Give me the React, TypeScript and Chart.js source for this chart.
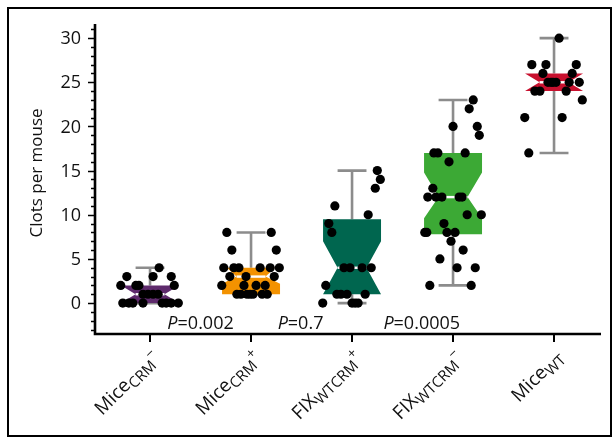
import React, { useEffect, useRef } from "react";
import { Chart, registerables } from "chart.js";

Chart.register(...registerables);

// ---------- data ----------
const categories = ["Mice", "Mice", "FIX", "FIX", "Mice"];
const subscripts = ["CRM", "CRM", "WTCRM", "WTCRM", "WT"];
const superscripts = ["\u2212", "+", "+", "\u2212", ""];

const whiskerLow = [0, 1, 0, 2, 17];
const quartile1 = [0, 1, 1, 7.8, 24];
const medians = [1, 3, 4, 12, 25];
const quartile3 = [2, 4, 9.5, 17, 26];
const whiskerHigh = [4, 8, 15, 23, 30];
const notchLow = [0, 2.2, 1, 9.6, 24];
const notchHigh = [2, 4.5, 7, 14.8, 26];

const g1Values = [4, 3, 3, 3, 2, 2, 2, 2, 1, 1, 1, 1, 0, 0, 0, 0, 0, 0, 0, 0];
const g1Jitter = [0.09, -0.23, 0.03, 0.21, -0.29, -0.14, -0.11, 0.24, -0.07, -0.02, 0.03, 0.08, -0.27, -0.21, -0.17, -0.07, 0.12, 0.16, 0.21, 0.28];

const g2Values = [8, 8, 6, 6, 4, 4, 4, 4, 4, 4, 3, 3, 3, 2, 2, 2, 2, 1, 1, 1, 1, 1, 1, 1];
const g2Jitter = [-0.24, 0.2, -0.19, 0.25, -0.27, -0.17, -0.12, 0.09, 0.19, 0.28, -0.21, -0.05, 0.23, -0.29, -0.07, 0.05, 0.14, -0.14, -0.1, -0.04, -0.01, 0.02, 0.11, 0.16];

const g3Values = [15, 14, 13, 11, 10, 9, 8, 4, 4, 4, 4, 2, 1, 1, 1, 1, 0, 0, 0, 0];
const g3Jitter = [0.25, 0.28, 0.23, -0.17, 0.16, -0.23, -0.2, -0.08, -0.02, 0.1, 0.19, -0.26, -0.15, -0.11, -0.05, 0.13, -0.29, 0.0, 0.03, 0.06];

const g4Values = [23, 22, 20, 20, 19, 17, 17, 17, 16, 13, 12, 12, 12, 12, 12, 10, 10, 9, 8, 8, 8, 8, 7, 6, 5, 4, 4, 2, 2];
const g4Jitter = [0.2, 0.16, 0.0, 0.24, 0.26, -0.19, -0.15, 0.12, -0.04, -0.2, -0.25, -0.17, -0.11, 0.06, 0.09, 0.14, 0.28, -0.09, -0.28, -0.26, -0.06, 0.02, -0.02, 0.1, -0.13, 0.04, 0.22, -0.23, 0.18];

const g5Values = [30, 27, 27, 27, 26, 26, 25, 25, 25, 25, 25, 25, 24, 24, 24, 23, 21, 21, 17];
const g5Jitter = [0.05, -0.22, -0.08, 0.22, -0.11, 0.18, -0.06, -0.03, -0.01, 0.02, 0.15, 0.25, -0.19, -0.14, 0.12, 0.28, -0.29, 0.08, -0.25];

const groupValues = [g1Values, g2Values, g3Values, g4Values, g5Values];
const groupJitter = [g1Jitter, g2Jitter, g3Jitter, g4Jitter, g5Jitter];

const yTickLabels = [0, 5, 10, 15, 20, 25, 30];
const pLabels = ["0.002", "0.7", "0.0005"];
const pLabelX = [0.5, 1.49, 2.69];

// ---------- styles ----------
const boxColors = ["#5e2a6c", "#f39200", "#00664f", "#3ca935", "#c8102e"];
const FONT = '"Open Sans", sans-serif';
const WHISKER = "#8c8c8c";
const BOX_HALF = 0.287;
const CAP_HALF = 0.143;
const NOTCH_FRAC = 0.5;

const boxPlugin = {
  id: "boxes",
  beforeDatasetsDraw(chart: any) {
    const { ctx } = chart;
    const x = chart.scales.x;
    const y = chart.scales.y;
    for (let i = 0; i < categories.length; i++) {
      const cx = x.getPixelForValue(i);
      const hw = x.getPixelForValue(i + BOX_HALF) - cx;
      const cw = x.getPixelForValue(i + CAP_HALF) - cx;
      ctx.save();
      ctx.strokeStyle = WHISKER;
      ctx.lineWidth = 2.6;
      ctx.beginPath();
      ctx.moveTo(cx, y.getPixelForValue(quartile3[i]));
      ctx.lineTo(cx, y.getPixelForValue(whiskerHigh[i]));
      ctx.moveTo(cx - cw, y.getPixelForValue(whiskerHigh[i]));
      ctx.lineTo(cx + cw, y.getPixelForValue(whiskerHigh[i]));
      ctx.moveTo(cx, y.getPixelForValue(quartile1[i]));
      ctx.lineTo(cx, y.getPixelForValue(whiskerLow[i]));
      ctx.moveTo(cx - cw, y.getPixelForValue(whiskerLow[i]));
      ctx.lineTo(cx + cw, y.getPixelForValue(whiskerLow[i]));
      ctx.stroke();

      const med = medians[i];
      const nHi = notchHigh[i];
      const nLo = notchLow[i];
      const inset = hw * (1 - NOTCH_FRAC);
      const insetAt = (v: number) => {
        if (v >= nHi || v <= nLo) return 0;
        const ext = v >= med ? nHi - med : med - nLo;
        return inset * (1 - Math.abs(v - med) / ext);
      };
      const vals = [quartile3[i], Math.min(nHi, quartile3[i]), med, Math.max(nLo, quartile1[i]), quartile1[i]];
      ctx.fillStyle = boxColors[i];
      ctx.beginPath();
      vals.forEach((v, k) => {
        const px = cx - hw + insetAt(v);
        const py = y.getPixelForValue(v);
        if (k === 0) ctx.moveTo(px, py);
        else ctx.lineTo(px, py);
      });
      for (let k = vals.length - 1; k >= 0; k--) {
        const v = vals[k];
        ctx.lineTo(cx + hw - insetAt(v), y.getPixelForValue(v));
      }
      ctx.closePath();
      ctx.fill();

      ctx.strokeStyle = "#ffffff";
      ctx.lineWidth = 2.4;
      ctx.beginPath();
      ctx.moveTo(cx - hw + inset, y.getPixelForValue(med));
      ctx.lineTo(cx + hw - inset, y.getPixelForValue(med));
      ctx.stroke();
      ctx.restore();
    }
  },
};

const axesPlugin = {
  id: "axesDraw",
  afterDraw(chart: any) {
    const { ctx, chartArea } = chart;
    const x = chart.scales.x;
    const y = chart.scales.y;
    ctx.save();
    // outer frame
    ctx.strokeStyle = "#000";
    ctx.lineWidth = 2;
    ctx.strokeRect(8, 8, 603, 428);

    // axis lines
    ctx.lineWidth = 2.6;
    ctx.beginPath();
    ctx.moveTo(chartArea.left, chartArea.top);
    ctx.lineTo(chartArea.left, chartArea.bottom + 1.3);
    ctx.moveTo(chartArea.left - 1.3, chartArea.bottom);
    ctx.lineTo(chartArea.right, chartArea.bottom);
    ctx.stroke();

    // y ticks
    ctx.lineWidth = 1.6;
    ctx.beginPath();
    for (let v = Math.ceil(y.min); v <= Math.floor(y.max); v++) {
      const py = Math.round(y.getPixelForValue(v)) + 0.5;
      const major = v >= 0 && v % 5 === 0;
      ctx.moveTo(chartArea.left - (major ? 7 : 4), py);
      ctx.lineTo(chartArea.left, py);
    }
    ctx.stroke();

    // y labels
    ctx.fillStyle = "#111";
    ctx.font = `18px ${FONT}`;
    ctx.textAlign = "right";
    ctx.textBaseline = "middle";
    yTickLabels.forEach((v) => {
      ctx.fillText(String(v), chartArea.left - 14, y.getPixelForValue(v) + 1);
    });

    // x ticks
    ctx.lineWidth = 2;
    ctx.beginPath();
    for (let i = 0; i < categories.length; i++) {
      const px = Math.round(x.getPixelForValue(i));
      ctx.moveTo(px, chartArea.bottom);
      ctx.lineTo(px, chartArea.bottom + 8);
    }
    ctx.stroke();

    // x labels
    for (let i = 0; i < categories.length; i++) {
      const px = x.getPixelForValue(i);
      const parts = [
        { t: categories[i], size: 19, dy: 0 },
        { t: subscripts[i], size: 15, dy: 4 },
        { t: superscripts[i], size: 14, dy: -6 },
      ];
      let total = 0;
      const widths = parts.map((p) => {
        ctx.font = `${p.size}px ${FONT}`;
        const w = ctx.measureText(p.t).width;
        total += w;
        return w;
      });
      ctx.save();
      ctx.translate(px + 10, chartArea.bottom + 24);
      ctx.rotate(-Math.PI / 4);
      ctx.textAlign = "left";
      ctx.textBaseline = "alphabetic";
      let cx = -total;
      parts.forEach((p, k) => {
        ctx.font = `${p.size}px ${FONT}`;
        ctx.fillText(p.t, cx, p.dy);
        cx += widths[k];
      });
      ctx.restore();
    }

    // P values
    ctx.textBaseline = "alphabetic";
    ctx.textAlign = "left";
    pLabels.forEach((t, k) => {
      ctx.font = `italic 18px ${FONT}`;
      const wp = ctx.measureText("P").width;
      ctx.font = `18px ${FONT}`;
      const wr = ctx.measureText("=" + t).width;
      const start = x.getPixelForValue(pLabelX[k]) - (wp + wr) / 2;
      const py = y.getPixelForValue(-2.95);
      ctx.font = `italic 18px ${FONT}`;
      ctx.fillText("P", start, py);
      ctx.font = `18px ${FONT}`;
      ctx.fillText("=" + t, start + wp, py);
    });

    // y title
    ctx.save();
    ctx.translate(37, 173);
    ctx.rotate(-Math.PI / 2);
    ctx.textAlign = "center";
    ctx.textBaseline = "middle";
    ctx.font = `17px ${FONT}`;
    ctx.fillText("Clots per mouse", 0, 0);
    ctx.restore();

    ctx.restore();
  },
};

export default function App() {
  const ref = useRef<HTMLCanvasElement | null>(null);
  useEffect(() => {
    if (!ref.current) return;
    const datasets = groupValues.map((vals, i) => ({
      type: "scatter" as const,
      data: vals.map((v, k) => ({ x: i + groupJitter[i][k], y: v })),
      backgroundColor: "#000",
      borderWidth: 0,
      pointRadius: 4.6,
      clip: false as any,
    }));
    const chart = new Chart(ref.current, {
      type: "scatter",
      data: { datasets },
      options: {
        animation: false,
        responsive: false,
        events: [],
        layout: { padding: { left: 95, right: 13, top: 24, bottom: 105 } },
        plugins: { legend: { display: false }, tooltip: { enabled: false } },
        scales: {
          x: { type: "linear", min: -0.545, max: 4.465, display: false },
          y: { type: "linear", min: -3.5, max: 31.6, display: false },
        },
      },
      plugins: [boxPlugin, axesPlugin],
    });
    return () => chart.destroy();
  }, []);
  return (
    <div style={{ position: "fixed", left: 0, top: 0, width: 614, height: 439, background: "#fff" }}>
      <canvas ref={ref} width={614} height={439} style={{ display: "block" }} />
    </div>
  );
}
